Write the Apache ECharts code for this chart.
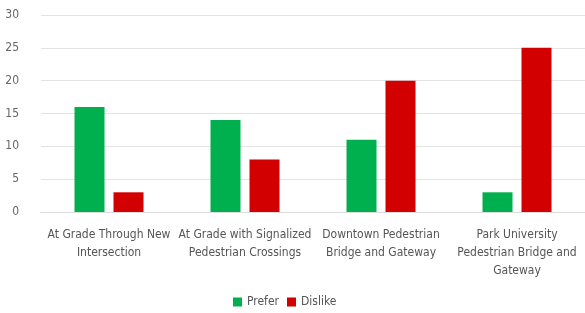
<!DOCTYPE html>
<html><head><meta charset="utf-8">
<script src="https://cdn.jsdelivr.net/npm/echarts@6/dist/echarts.min.js"></script>
<style>html,body{margin:0;padding:0;background:#fff}#c{width:585px;height:313px}</style>
</head><body><div id="c"></div>
<script>
const categories = ["At Grade Through New\nIntersection","At Grade with Signalized\nPedestrian Crossings","Downtown Pedestrian\nBridge and Gateway","Park University\nPedestrian Bridge and\nGateway"];
const prefer = [16,14,11,3];
const dislike = [3,8,20,25];
const yTicks = {min:0,max:30,interval:5};
const font = '"DejaVu Sans Condensed","Liberation Sans Narrow",sans-serif';
const chart = echarts.init(document.getElementById('c'));
chart.setOption({
  animation:false,
  grid:{left:41,width:550,top:15,bottom:101,containLabel:false},
  legend:{bottom:0,left:228,itemWidth:9,itemHeight:9,itemGap:8,icon:'rect',
    textStyle:{color:'#555',fontSize:12,fontFamily:font}},
  xAxis:{type:'category',data:categories,
    axisLine:{lineStyle:{color:'#ddd'}},axisTick:{show:false},
    axisLabel:{color:'#555',fontSize:12,fontFamily:font,lineHeight:18,interval:0,margin:14}},
  yAxis:{type:'value',min:yTicks.min,max:yTicks.max,interval:yTicks.interval,
    axisLine:{show:false},axisTick:{show:false},
    splitLine:{lineStyle:{color:'#e3e3e3'}},
    axisLabel:{color:'#666',fontSize:12,fontFamily:font,margin:22}},
  series:[
    {name:'Prefer',type:'bar',data:prefer,itemStyle:{color:'#00b04f'},barWidth:30,barGap:'30%'},
    {name:'Dislike',type:'bar',data:dislike,itemStyle:{color:'#d20000'},barWidth:30,barGap:'30%'}
  ]
});
</script></body></html>
